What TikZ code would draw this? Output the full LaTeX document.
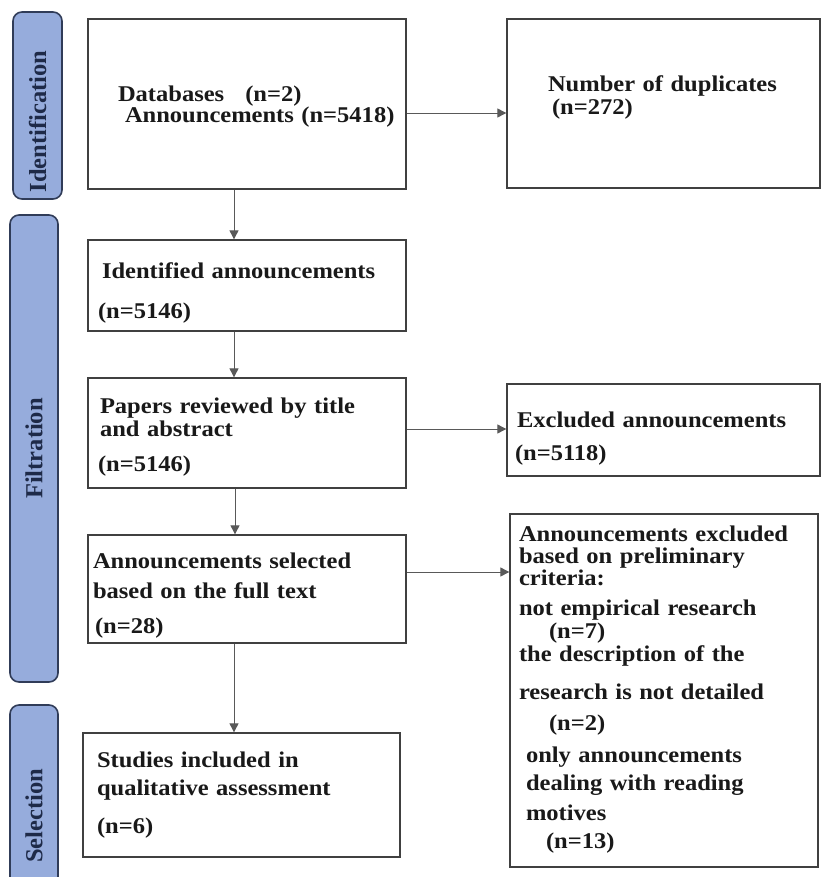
\documentclass[tikz,border=0pt]{standalone}
\usepackage{fontspec}
\setmainfont{Liberation Serif}
\newfontfamily\boxfont[FakeStretch=1.09]{Liberation Serif}
\usetikzlibrary{arrows.meta}
\definecolor{phasefill}{RGB}{150,172,220}
\definecolor{phaseline}{RGB}{48,60,88}
\definecolor{phasetext}{RGB}{30,42,72}

\begin{document}
\begin{tikzpicture}[x=1pt,y=-1pt,
  box/.style={draw=black!75,line width=1.3pt,fill=white,inner xsep=5pt,inner ysep=0pt,
    align=left,text height=0pt,text=black!90,
    font=\boxfont\fontsize{22.5}{21}\selectfont\bfseries,
    execute at begin node={\lineskiplimit=-100pt}},
  phase/.style={draw=phaseline,line width=1.6pt,fill=phasefill,rounded corners=9pt,
    rotate=90,inner sep=0pt,text=phasetext,font=\fontsize{24.5}{26}\selectfont\bfseries},
  arr/.style={draw=black!65,line width=0.9pt,-{Triangle[length=9pt,width=9pt]}}]
\path[use as bounding box,clip] (0,0) rectangle (821,877);

% Phase bars
\node[phase,minimum width=187pt,minimum height=49pt] (idbar) at (37.5,105.5) {Identification\hspace*{32pt}};
\node[phase,minimum width=467pt,minimum height=48pt] (filbar) at (34,448.5) {Filtration};
\node[phase,minimum width=222pt,minimum height=48pt] (selbar) at (34,816) {Selection};

% Left column
\node[box,text width=308pt,minimum height=170pt,text depth=4pt] (db) at (247,104)
  {\hspace*{25pt}Databases\hspace{21pt}(n=2)\\
   \hspace*{32pt}Announcements (n=5418)};
\node[box,text width=308pt,minimum height=91pt,text depth=15pt] (ident) at (247,285.5)
  {\hspace*{9pt}Identified announcements\\[19pt]
   \hspace*{5pt}(n=5146)};
\node[box,text width=308pt,minimum height=110pt,text depth=40pt] (papers) at (247,433)
  {\hspace*{7pt}Papers reviewed by title\\[2pt]
   \hspace*{7pt}and abstract\\[14pt]
   \hspace*{5pt}(n=5146)};
\node[box,text width=308pt,minimum height=108pt,text depth=42pt] (sel) at (247,589)
  {Announcements selected\\[9pt]
   based on the full text\\[14pt]
   \hspace*{2pt}(n=28)};
\node[box,text width=307pt,minimum height=124pt,text depth=56pt] (studies) at (241.5,795)
  {\hspace*{9pt}Studies included in\\[7pt]
   \hspace*{9pt}qualitative assessment\\[17pt]
   \hspace*{9pt}(n=6)};

% Right column
\node[box,text width=303pt,minimum height=169pt,text depth=23pt] (dup) at (663.5,103.5)
  {\hspace*{36pt}Number of duplicates\\[2pt]
   \hspace*{40pt}(n=272)};
\node[box,text width=303pt,minimum height=92pt,text depth=6pt] (excl) at (663.5,430)
  {\hspace*{5pt}Excluded announcements\\[12pt]
   \hspace*{3pt}(n=5118)};
\node[box,text width=298pt,minimum height=353pt,text depth=299pt] (crit) at (664,690.5)
  {\hspace*{4pt}Announcements excluded\\[1pt]
   \hspace*{4pt}based on preliminary\\[1pt]
   \hspace*{4pt}criteria:\\[9pt]
   \hspace*{4pt}not empirical research\\[2pt]
   \hspace*{34pt}(n=7)\\[2pt]
   \hspace*{4pt}the description of the\\[17pt]
   \hspace*{4pt}research is not detailed\\[10pt]
   \hspace*{34pt}(n=2)\\[11pt]
   \hspace*{11pt}only announcements\\[7pt]
   \hspace*{11pt}dealing with reading\\[9pt]
   \hspace*{11pt}motives\\[7pt]
   \hspace*{31pt}(n=13)};

% Flow downwards
\draw[arr] ([xshift=-13pt]db.south) -- ([xshift=-13pt]ident.north);
\draw[arr] ([xshift=-13pt]ident.south) -- ([xshift=-13pt]papers.north);
\draw[arr] ([xshift=-12pt]papers.south) -- ([xshift=-12pt]sel.north);
\draw[arr] ([xshift=-13pt]sel.south) -- ([xshift=-13pt]sel.south |- studies.north);

% Exclusions to the right
\draw[arr] ([yshift=-9pt]db.east) -- ([yshift=-9pt]db.east -| dup.west);
\draw[arr] ([yshift=4pt]papers.east) -- ([yshift=4pt]papers.east -| excl.west);
\draw[arr] ([yshift=17pt]sel.east) -- ([yshift=17pt]sel.east -| crit.west);
\end{tikzpicture}
\end{document}
